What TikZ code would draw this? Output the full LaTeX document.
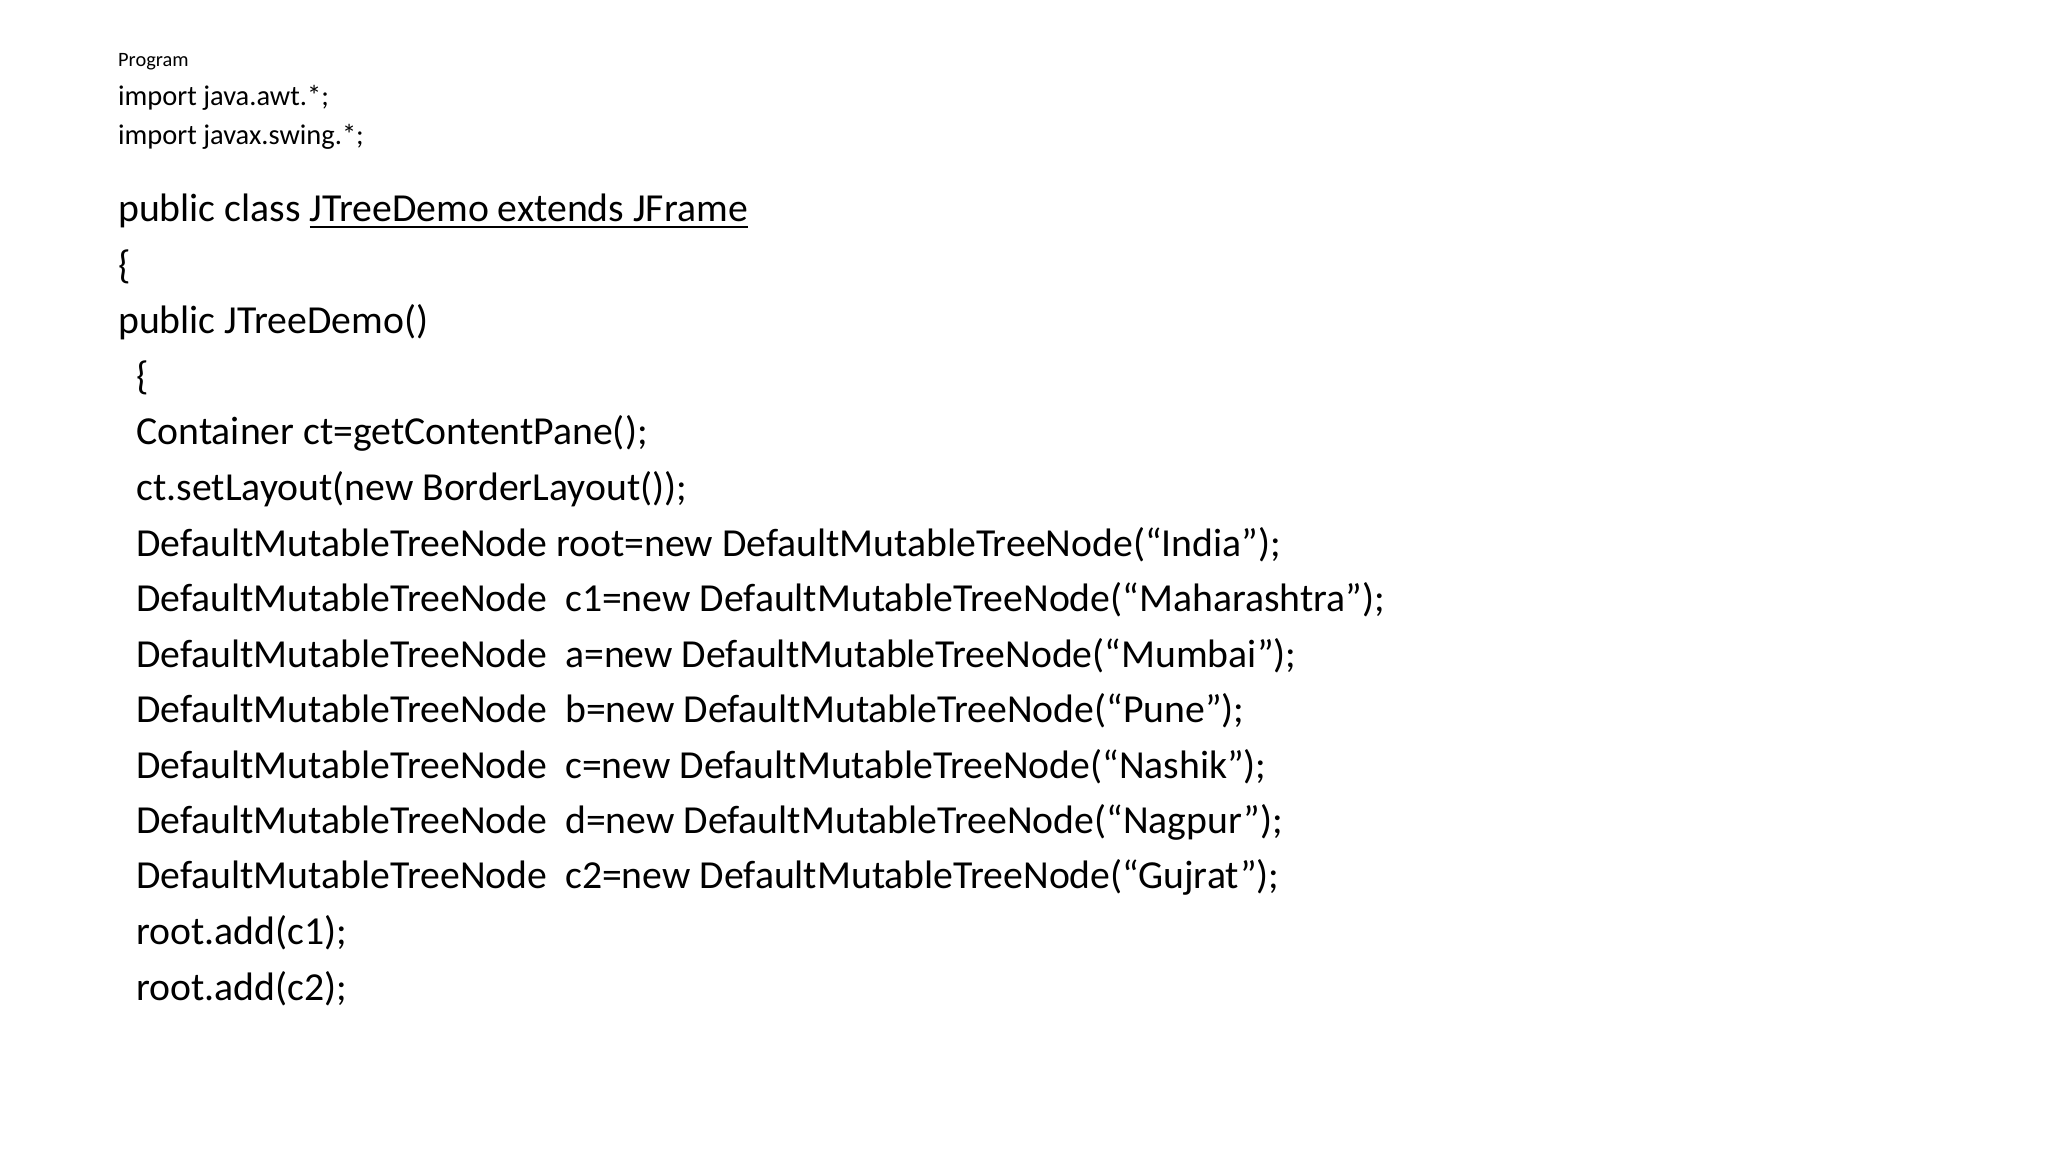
\documentclass[tikz,border=0pt]{standalone}
\usepackage{fontspec}
\setmainfont{Carlito}
\begin{document}
\begin{tikzpicture}[x=1cm,y=1cm,
  code/.style={anchor=west,inner sep=0pt,font=\fontsize{11.3}{13}\selectfont},
  small/.style={anchor=west,inner sep=0pt,font=\fontsize{8.1}{10}\selectfont}]
\useasboundingbox (0,0) rectangle (20.48,11.52);
\node[anchor=west,inner sep=0pt,font=\fontsize{5.8}{7}\selectfont] (p) at (1.175,10.906) {Program};
\node[small] (i1) at (1.175,10.54) {import java.awt.*;};
\node[small] (i2) at (1.175,10.149) {import javax.swing.*;};
\node[code] (l0) at (1.175,9.404) {public class \underline{JTreeDemo extends JFrame}};
\node[code] (l1) at (1.175,8.849) {\{};
\node[code] (l2) at (1.175,8.294) {public JTreeDemo()};
\node[code] (l3) at (1.358,7.739) {\{};
\node[code] (l4) at (1.358,7.184) {Container ct=getContentPane();};
\node[code] (l5) at (1.358,6.629) {ct.setLayout(new BorderLayout());};
\node[code] (l6) at (1.358,6.074) {DefaultMutableTreeNode root=new DefaultMutableTreeNode(“India”);};
\node[code] (l7) at (1.358,5.519) {DefaultMutableTreeNode\ \ c1=new DefaultMutableTreeNode(“Maharashtra”);};
\node[code] (l8) at (1.358,4.964) {DefaultMutableTreeNode\ \ a=new DefaultMutableTreeNode(“Mumbai”);};
\node[code] (l9) at (1.358,4.409) {DefaultMutableTreeNode\ \ b=new DefaultMutableTreeNode(“Pune”);};
\node[code] (l10) at (1.358,3.854) {DefaultMutableTreeNode\ \ c=new DefaultMutableTreeNode(“Nashik”);};
\node[code] (l11) at (1.358,3.299) {DefaultMutableTreeNode\ \ d=new DefaultMutableTreeNode(“Nagpur”);};
\node[code] (l12) at (1.358,2.744) {DefaultMutableTreeNode\ \ c2=new DefaultMutableTreeNode(“Gujrat”);};
\node[code] (l13) at (1.358,2.189) {root.add(c1);};
\node[code] (l14) at (1.358,1.634) {root.add(c2);};
\end{tikzpicture}
\end{document}
